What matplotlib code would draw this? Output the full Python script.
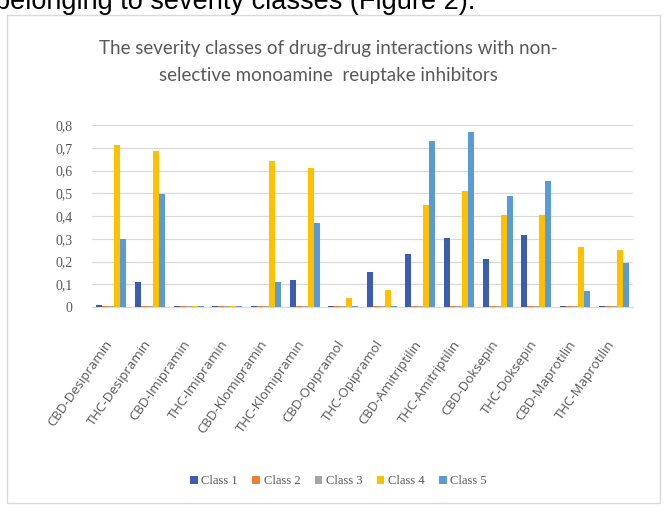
import numpy as np
import matplotlib.pyplot as plt
import matplotlib.transforms as mtransforms
from matplotlib.patches import Rectangle

# drug pairs on the x axis
categories = ["CBD-Desipramin", "THC-Desipramin", "CBD-Imipramin", "THC-Imipramin",
              "CBD-Klomipramin", "THC-Klomipramin", "CBD-Opipramol", "THC-Opipramol",
              "CBD-Amitriptilin", "THC-Amitriptilin", "CBD-Doksepin", "THC-Doksepin",
              "CBD-Maprotilin", "THC-Maprotilin"]

# values (tiny values show as a flat line at zero)
class_1 = [0.01, 0.11, 0.004, 0.004, 0.004, 0.12, 0.004, 0.155, 0.235, 0.305, 0.21, 0.315, 0.004, 0.004]
class_2 = [0.004, 0.004, 0.004, 0.004, 0.004, 0.004, 0.004, 0.004, 0.004, 0.004, 0.004, 0.004, 0.004, 0.004]
class_3 = [0.004, 0.004, 0.004, 0.004, 0.004, 0.004, 0.004, 0.004, 0.004, 0.004, 0.004, 0.004, 0.004, 0.004]
class_4 = [0.71, 0.685, 0.004, 0.004, 0.64, 0.61, 0.04, 0.075, 0.45, 0.51, 0.405, 0.405, 0.265, 0.25]
class_5 = [0.30, 0.495, 0.004, 0.004, 0.11, 0.37, 0.004, 0.004, 0.73, 0.77, 0.49, 0.555, 0.07, 0.195]

series_names = ["Class 1", "Class 2", "Class 3", "Class 4", "Class 5"]
colors = ["#3B5CB0", "#ED7D31", "#A5A5A5", "#FFC000", "#5B9BD5"]

yticks = [0, 0.1, 0.2, 0.3, 0.4, 0.5, 0.6, 0.7, 0.8]
ytick_labels = ["0", "0,1", "0,2", "0,3", "0,4", "0,5", "0,6", "0,7", "0,8"]

fig = plt.figure(figsize=(6.68, 5.13), dpi=100)

# page text cut off above the chart
fig.text(-0.008, 1 - 9 / 513, "belonging to severity classes (Figure 2).",
         fontsize=19.5, family="Liberation Sans", color="black", va="baseline", ha="left")

# chart frame
fig.patches.append(Rectangle((7 / 668, 1 - 503 / 513), 653 / 668, 488 / 513,
                             transform=fig.transFigure, fill=False,
                             edgecolor="#d9d9d9", linewidth=1.0))

fig.text(0.491, 1 - 62 / 513,
         "The severity classes of drug-drug interactions with non-\nselective monoamine  reuptake inhibitors",
         ha="center", va="center", fontsize=13.5, family="Lato", color="#595959", linespacing=1.7)

ax = fig.add_axes([92 / 668, 1 - 307 / 513, (633 - 92) / 668, (307 - 125) / 513])

x = np.arange(len(categories))
all_series = [class_1, class_2, class_3, class_4, class_5]
bar_w = 0.155
for i, (vals, name, col) in enumerate(zip(all_series, series_names, colors)):
    ax.bar(x + (i - 2) * bar_w, vals, width=bar_w, color=col, label=name, zorder=3)

ax.set_xlim(-0.5, len(categories) - 0.5)
ax.set_ylim(0, 0.8)
ax.set_yticks(yticks)
ax.set_yticklabels(ytick_labels, family="Liberation Serif", fontsize=10, color="#595959")
ax.set_xticks(x)
ax.set_xticklabels(categories, rotation=55, ha="right", rotation_mode="anchor",
                   fontsize=9.5, color="#595959", family="Open Sans")
ax.tick_params(axis="y", length=0, pad=14)
ax.tick_params(axis="x", length=0, pad=18)
# nudge the slanted labels a little left and down
shift = mtransforms.ScaledTranslation(-7 / 100, -6 / 100, fig.dpi_scale_trans)
for lbl in ax.get_xticklabels():
    lbl.set_transform(lbl.get_transform() + shift)
ax.grid(axis="y", color="#d9d9d9", linewidth=0.9, zorder=0)
for side in ["left", "right", "top"]:
    ax.spines[side].set_visible(False)
ax.spines["bottom"].set_color("#d9d9d9")

handles, labels = ax.get_legend_handles_labels()
fig.legend(handles, labels, loc="center", bbox_to_anchor=(0.507, 1 - 481 / 513), ncol=5,
           frameon=False, prop={"family": "Liberation Serif", "size": 9},
           handlelength=0.6, handleheight=0.6, handletextpad=0.3, columnspacing=1.15,
           labelcolor="#595959")

fig.savefig("out.png", dpi=100)
